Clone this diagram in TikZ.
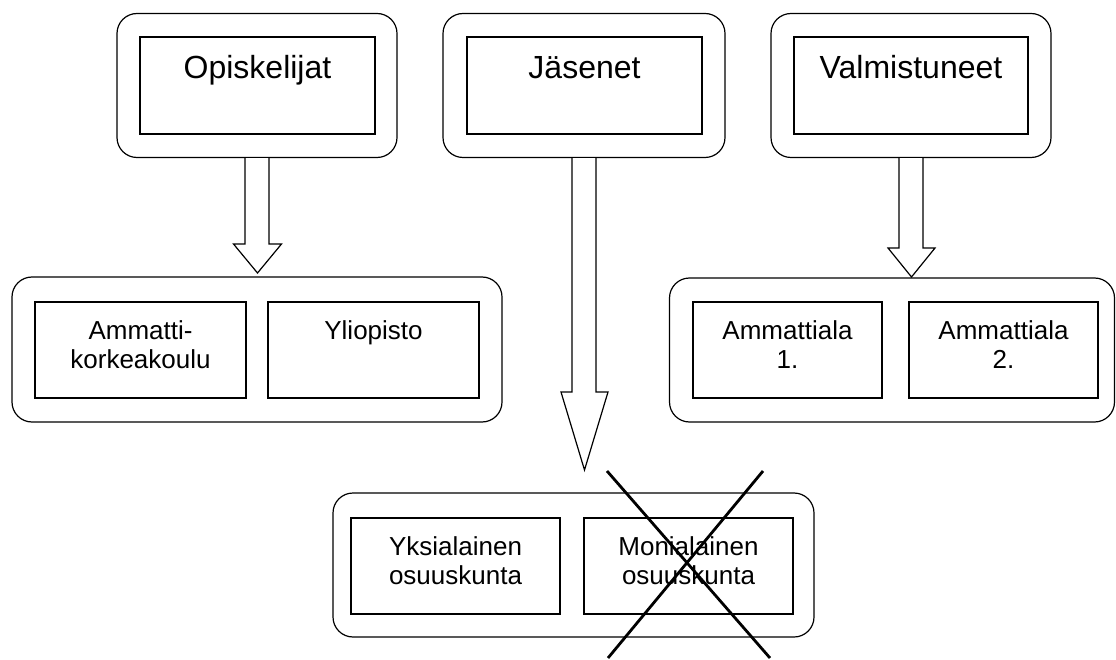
\documentclass[tikz,border=0pt]{standalone}
\usepackage{fontspec}
\setmainfont{Liberation Sans}
\usetikzlibrary{calc}
\tikzset{
  outerbox/.style={draw, line width=1.2pt, rounded corners=20pt, minimum height=144pt, inner sep=0pt},
  innerbox/.style={draw, line width=1.2pt, minimum height=97pt, inner sep=0pt},
  bigtxt/.style={anchor=base, inner sep=0pt, font=\fontsize{32}{36}\selectfont},
  smalltxt/.style={anchor=base, inner sep=0pt, font=\fontsize{26}{29}\selectfont},
  blk/.style={draw, line width=1.2pt, fill=white, line join=miter},
  crossline/.style={draw, line width=2.8pt}
}
\newcommand{\twoline}[3]{\parbox[t]{#1pt}{\centering #2\\#3}}
\begin{document}
\begin{tikzpicture}[x=1pt,y=-1pt]
\useasboundingbox (0,0) rectangle (1116,660);
% top row
\node[outerbox, minimum width=280pt] (opiO) at (257,85.5) {};
\node[innerbox, minimum width=235pt] (opiI) at (257.5,85.5) {};
\node[bigtxt] (opiT) at (257.5,79) {Opiskelijat};
\node[outerbox, minimum width=282pt] (jasO) at (584,85.5) {};
\node[innerbox, minimum width=235pt] (jasI) at (584.5,85.5) {};
\node[bigtxt] (jasT) at (584.5,79) {Jäsenet};
\node[outerbox, minimum width=280pt] (valO) at (911,85.5) {};
\node[innerbox, minimum width=234pt] (valI) at (911,85.5) {};
\node[bigtxt] (valT) at (911,79) {Valmistuneet};
% left bottom
\node[outerbox, minimum width=490pt, minimum height=145pt] (kouO) at (257,349.5) {};
\node[innerbox, minimum width=211pt, minimum height=96pt] (amkI) at (140.5,350) {};
\node[innerbox, minimum width=211pt, minimum height=96pt] (yliI) at (373.5,350) {};
\node[smalltxt] (amkT) at (140.5,339) {\twoline{200}{Ammatti-}{korkeakoulu}};
\node[smalltxt] (yliT) at (373.5,339) {Yliopisto};
% right bottom
\node[outerbox, minimum width=445pt] (alaO) at (892,350) {};
\node[innerbox, minimum width=189pt, minimum height=96pt] (ala1I) at (787.5,350) {};
\node[innerbox, minimum width=189pt, minimum height=96pt] (ala2I) at (1003.5,350) {};
\node[smalltxt] (ala1T) at (787.5,339) {\twoline{180}{Ammattiala}{1.}};
\node[smalltxt] (ala2T) at (1003.5,339) {\twoline{180}{Ammattiala}{2.}};
% bottom middle
\node[outerbox, minimum width=481pt] (osuO) at (573.5,565) {};
\node[innerbox, minimum width=209pt, minimum height=96pt] (yksI) at (455.5,566) {};
\node[innerbox, minimum width=209pt, minimum height=96pt] (monI) at (688.5,566) {};
\node[smalltxt] (yksT) at (455.5,555) {\twoline{200}{Yksialainen}{osuuskunta}};
\node[smalltxt] (monT) at (688.5,555) {\twoline{200}{Monialainen}{osuuskunta}};
% block arrows
\coordinate (tipA) at (257.5,273);
\coordinate (tipB) at (584.5,470);
\coordinate (tipC) at (911.5,277);
\draw[blk] ([xshift=-12pt]opiO.south) -- ([xshift=-12pt]opiO.south |- 0,244) -- ([xshift=-24pt]tipA |- 0,244) -- (tipA)
  -- ([xshift=24pt]tipA |- 0,244) -- ([xshift=12pt]opiO.south |- 0,244) -- ([xshift=12pt]opiO.south);
\draw[blk] ([xshift=-12pt]jasO.south) -- ([xshift=-12pt]jasO.south |- 0,392) -- ([xshift=-23.5pt]tipB |- 0,392) -- (tipB)
  -- ([xshift=23.5pt]tipB |- 0,392) -- ([xshift=12pt]jasO.south |- 0,392) -- ([xshift=12pt]jasO.south);
\draw[blk] ([xshift=-12pt]valO.south) -- ([xshift=-12pt]valO.south |- 0,248) -- ([xshift=-23.5pt]tipC |- 0,248) -- (tipC)
  -- ([xshift=23.5pt]tipC |- 0,248) -- ([xshift=12pt]valO.south |- 0,248) -- ([xshift=12pt]valO.south);
% cross
\coordinate (xa) at (607,471);
\coordinate (xb) at (770,658);
\coordinate (xc) at (763,471);
\coordinate (xd) at (608,658);
\draw[crossline] (xa) -- (xb);
\draw[crossline] (xc) -- (xd);
\end{tikzpicture}
\end{document}
